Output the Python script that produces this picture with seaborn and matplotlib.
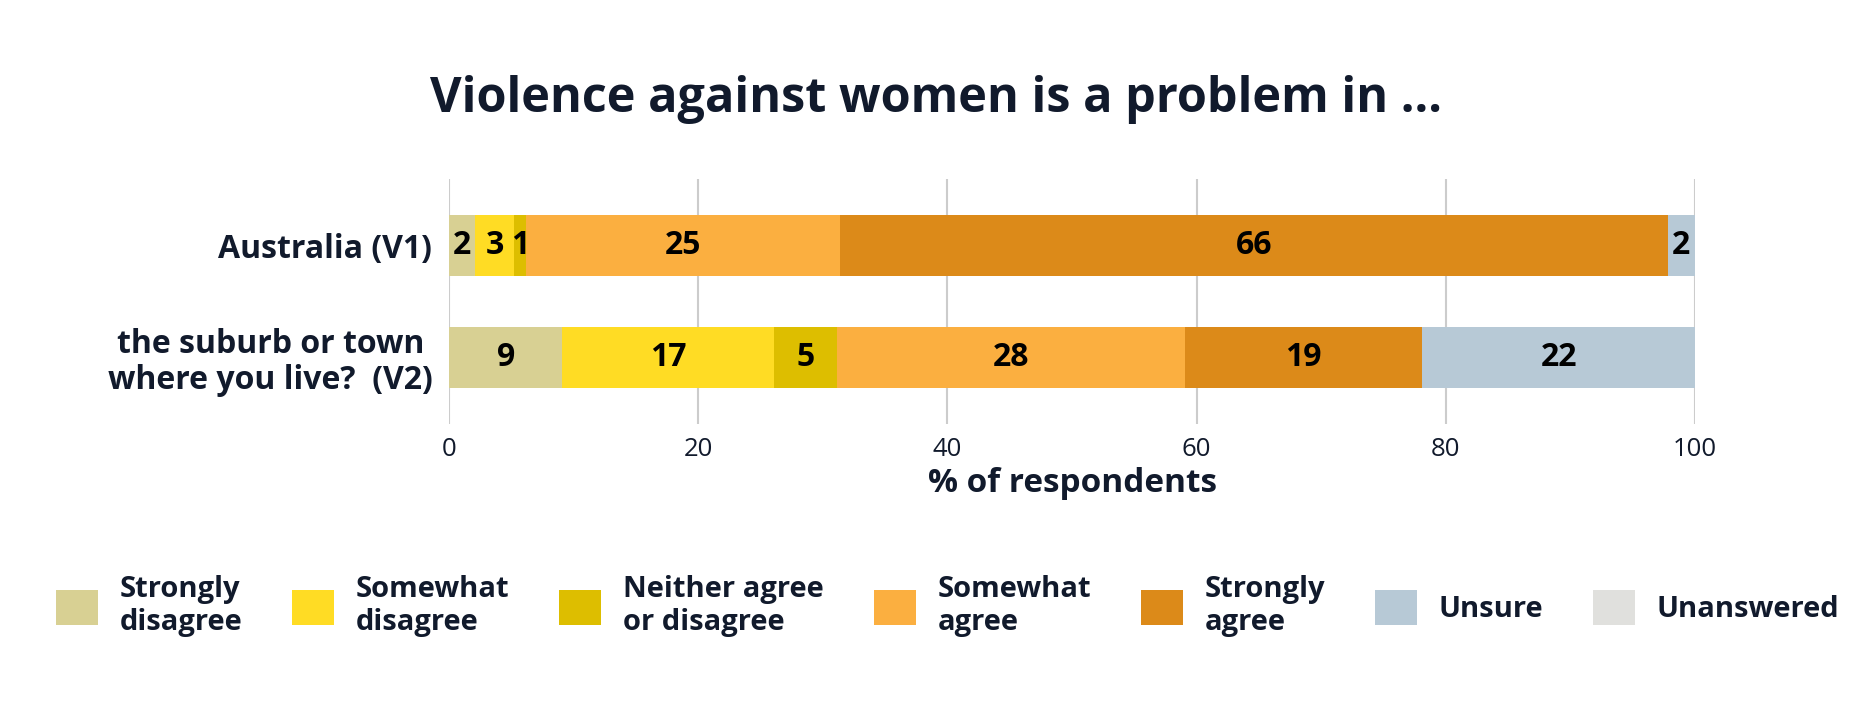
import numpy as np
import pandas as pd
import seaborn as sns
import matplotlib
matplotlib.use("Agg")
import matplotlib.pyplot as plt

sns.set_theme(style="white")
plt.rcParams['font.family'] = ['Open Sans', 'DejaVu Sans']

categories = ["Australia (V1)", "the suburb or town \nwhere you live?  (V2)"]
responses = ["Strongly disagree", "Somewhat disagree", "Neither agree or disagree",
             "Somewhat agree", "Strongly agree", "Unsure", "Unanswered"]
legend_labels = ["Strongly\ndisagree", "Somewhat\ndisagree", "Neither agree\nor disagree",
                 "Somewhat\nagree", "Strongly\nagree", "Unsure", "Unanswered"]
strongly_disagree = [2.1, 9.1]
somewhat_disagree = [3.1, 17.0]
neither = [1.0, 5.0]
somewhat_agree = [25.2, 28.0]
strongly_agree = [66.4, 19.0]
unsure = [2.2, 21.9]
unanswered = [0.0, 0.0]
colors = ["#D8D093", "#FFDC24", "#DDBE00", "#FBAF40", "#DC8A19", "#B7C9D6", "#E0E0DD"]

series = [strongly_disagree, somewhat_disagree, neither, somewhat_agree,
          strongly_agree, unsure, unanswered]
vals = np.array(series, dtype=float)  # shape (7, 2)
cum = np.cumsum(vals, axis=0)

txt = "#111a2c"
fig = plt.figure(figsize=(18.72, 7.2), dpi=100)
ax = fig.add_axes([449/1872, 1-424/720, (1695-449)/1872, (424-179)/720])

# draw stacked bars (largest cumulative first)
for i in range(len(responses) - 1, -1, -1):
    df = pd.DataFrame({"cat": categories, "val": cum[i]})
    sns.barplot(data=df, y="cat", x="val", orient="y", color=colors[i],
                width=0.55, ax=ax, label=legend_labels[i], saturation=1,
                linewidth=0, order=categories)

# value labels
for i in range(len(responses)):
    for j in range(len(categories)):
        v = vals[i, j]
        if v > 0:
            ax.text(cum[i, j] - v / 2, j, f"{int(round(v))}", ha="center", va="center",
                    fontsize=23, fontweight="bold", color="black")

ax.set_xlim(0, 100)
ax.set_ylim(1.6, -0.6)
ax.set_xticks([0, 20, 40, 60, 80, 100])
ax.set_axisbelow(True)
ax.grid(axis="x", color="#cccccc", linewidth=1.5)
ax.grid(axis="y", visible=False)
for s in ax.spines.values():
    s.set_visible(False)
ax.tick_params(axis="x", labelsize=18.5, colors=txt, length=0, pad=9)
ax.tick_params(axis="y", labelsize=23, colors=txt, length=0, pad=12)
for lab in ax.get_yticklabels():
    lab.set_fontweight("bold")
    lab.set_horizontalalignment("right")
    lab.set_linespacing(1.1)
ax.set_ylabel("")
ax.set_xlabel("% of respondents", fontsize=24, fontweight="bold", color=txt, labelpad=4)

fig.suptitle("Violence against women is a problem in ...", x=0.5, y=1-100/720,
             va="center", fontsize=35, fontweight="bold", color=txt)

handles, labels = ax.get_legend_handles_labels()
if ax.get_legend() is not None:
    ax.get_legend().remove()
order = [labels.index(l) for l in legend_labels]
leg = fig.legend([handles[k] for k in order], [labels[k] for k in order],
                 loc="center left", bbox_to_anchor=(56/1872, 1-606/720), ncol=7,
                 frameon=False, handlelength=1.44, handleheight=1.44,
                 handletextpad=0.75, columnspacing=1.7, borderpad=0, borderaxespad=0,
                 labelcolor=txt, prop={"weight": "bold", "size": 21})

fig.savefig("out.png", dpi=100)
